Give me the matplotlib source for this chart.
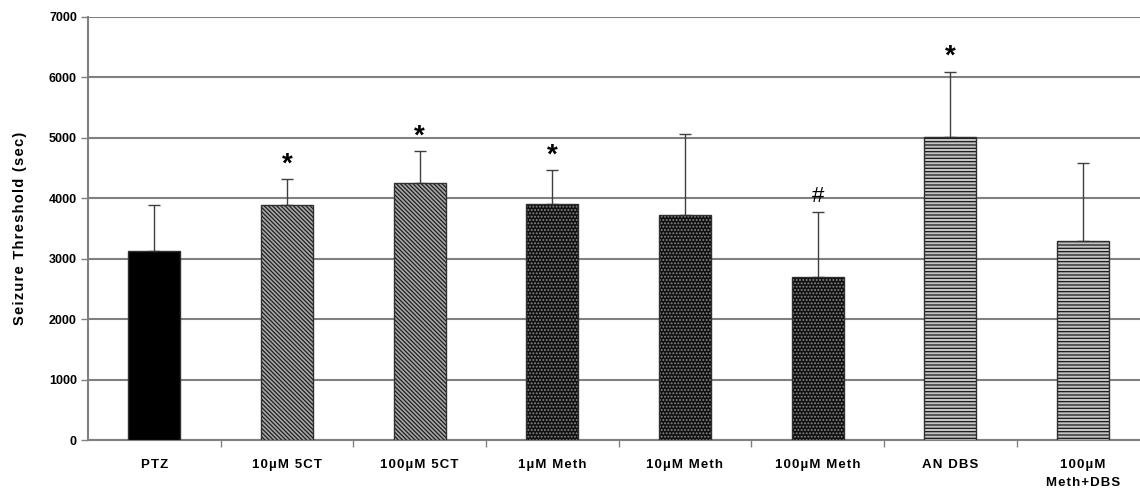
import matplotlib
matplotlib.use('Agg')
import matplotlib.pyplot as plt
import numpy as np

plt.rcParams['font.family'] = ['Liberation Sans', 'DejaVu Sans']
plt.rcParams['hatch.linewidth'] = 0.9

groups = ['PTZ', '10µM 5CT', '100µM 5CT', '1µM Meth', '10µM Meth',
          '100µM Meth', 'AN DBS', '100µM\nMeth+DBS']
means = [3130, 3895, 4245, 3910, 3725, 2690, 5010, 3295]
err_top = [3895, 4315, 4775, 4465, 5070, 3775, 6095, 4580]
marks = ['', '*', '*', '*', '', '#', '*', '']

yticks = [0, 1000, 2000, 3000, 4000, 5000, 6000, 7000]

# (face, hatch, hatch colour)
styles = [
  ('black', None, 'black'),
  ('#a8a8a8', '\\' * 8, '#1e1e1e'),
  ('#a8a8a8', '\\' * 8, '#1e1e1e'),
  ('#101010', '.' * 5, '#8a8a8a'),
  ('#101010', '.' * 5, '#8a8a8a'),
  ('#101010', '.' * 5, '#8a8a8a'),
  ('#c4c4c4', '-' * 5, '#181818'),
  ('#c4c4c4', '-' * 5, '#181818'),
]


def spaced(s):
  # Excel-style wide letter spacing
  return '\n'.join('\u200a'.join(line) for line in s.split('\n'))


fig = plt.figure(figsize=(11.4, 4.9), dpi=100)
ax = fig.add_axes([88 / 1140, 50 / 490, (1140 - 88) / 1140, 423 / 490])

x = np.arange(len(groups))
w = 0.39

for i in range(len(groups)):
  face, hatch, hcol = styles[i]
  ax.bar(x[i], means[i], w, color=face, edgecolor=hcol, hatch=hatch,
         linewidth=0, zorder=3)
  ax.bar(x[i], means[i], w, fill=False, edgecolor='#303030',
         linewidth=1.0, zorder=4)

errs = np.array(err_top) - np.array(means)
ax.errorbar(x, means, yerr=[np.zeros(len(errs)), errs], fmt='none',
            ecolor='#404040', elinewidth=1.0, capsize=4, capthick=1.0, zorder=2)

for i, m in enumerate(marks):
  if m == '*':
    ax.text(x[i], err_top[i] + 30, m, ha='center', va='bottom',
            fontsize=20, fontweight='bold', color='black', zorder=5)
  elif m:
    ax.text(x[i], err_top[i] + 80, m, ha='center', va='bottom',
            fontsize=16, color='black', zorder=5)

ax.set_xlim(-0.5, 7.43)
ax.set_ylim(0, 7000)
ax.set_yticks(yticks)
ax.set_yticklabels([str(t) for t in yticks], fontsize=9, fontweight='bold')
ax.yaxis.grid(True, color='#808080', linewidth=1.5, zorder=0)
ax.set_axisbelow(True)

ax.set_xticks(x)
ax.set_xticklabels([spaced(g) for g in groups], fontsize=9.5,
                   fontweight='bold', linespacing=1.6)
ax.set_xticks(np.arange(0.5, 7, 1.0), minor=True)
ax.tick_params(axis='x', which='major', length=0, pad=14)
ax.tick_params(axis='x', which='minor', length=5, color='#808080', width=1)
ax.tick_params(axis='y', length=5, color='#808080', width=1, pad=3)

for s in ['top', 'right']:
  ax.spines[s].set_visible(False)
for s in ['left', 'bottom']:
  ax.spines[s].set_color('#808080')
  ax.spines[s].set_linewidth(1.5)

ax.set_ylabel(spaced('Seizure Threshold (sec)'), fontsize=10.5,
              fontweight='bold', labelpad=16)

fig.savefig('out.png', dpi=100)
